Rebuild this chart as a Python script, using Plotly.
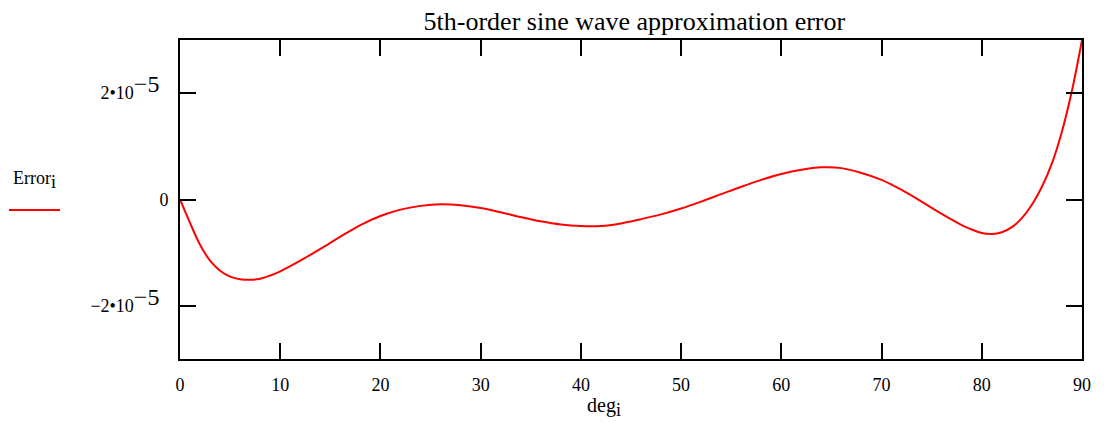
import plotly.graph_objects as go

# Values (deg, error in units of 1e-5)
deg = [0, 1, 2, 3, 4, 5, 6, 7, 8, 9, 10, 12, 14, 16, 18, 20, 22, 24, 26, 28, 30,
       32, 34, 36, 38, 40, 42, 44, 46, 48, 50, 52, 54, 56, 58, 60, 62, 64, 66, 68,
       70, 72, 74, 76, 78, 79, 80, 81, 82, 83, 84, 85, 86, 87, 88, 89, 90]
error_e5 = [0, -0.44, -0.85, -1.15, -1.34, -1.45, -1.50, -1.51, -1.49, -1.43, -1.35,
            -1.15, -0.93, -0.70, -0.48, -0.31, -0.19, -0.12, -0.09, -0.11, -0.16,
            -0.24, -0.33, -0.41, -0.47, -0.50, -0.50, -0.45, -0.37, -0.28, -0.17,
            -0.04, 0.10, 0.24, 0.37, 0.48, 0.56, 0.605, 0.59, 0.50, 0.37, 0.18, -0.04,
            -0.27, -0.48, -0.565, -0.63, -0.648, -0.615, -0.52, -0.35, -0.10, 0.24,
            0.68, 1.28, 2.05, 3.00]
error = [v * 1e-5 for v in error_e5]

x_ticks = [0, 10, 20, 30, 40, 50, 60, 70, 80, 90]
y_tickvals = [-2e-5, 0, 2e-5]
SUP = "<sup><span style='font-size:24px'>\u22125</span></sup>"
y_ticktext = ["\u22122\u202210" + SUP + "\u00a0\u00a0", "0",
              "2\u202210" + SUP + "\u00a0\u00a0"]

FONT = "Liberation Serif, Times New Roman, serif"

fig = go.Figure()
fig.add_trace(go.Scatter(
    x=deg, y=error, mode="lines",
    line=dict(color="#ff0000", width=2, shape="spline", smoothing=1.0),
    showlegend=False,
))

axis_common = dict(
    showline=True, linecolor="black", linewidth=2, mirror="ticks",
    ticks="inside", ticklen=16, tickwidth=2, tickcolor="black",
    showgrid=False, zeroline=False,
    tickfont=dict(family=FONT, size=18, color="black"),
)

fig.update_layout(
    width=1096, height=415,
    margin=dict(l=172, r=22, t=32, b=64),
    paper_bgcolor="white", plot_bgcolor="white",
    font=dict(family=FONT, size=18, color="black"),
    title=dict(text="5th-order sine wave approximation error",
               x=0.5715, xanchor="center", y=0.969, yanchor="middle",
               font=dict(family=FONT, size=26, color="black")),
    xaxis=dict(range=[0, 90], tickvals=x_ticks, ticklabelstandoff=8, **axis_common),
    yaxis=dict(range=[-3e-5, 3e-5], tickvals=y_tickvals, ticktext=y_ticktext,
               ticklabelstandoff=6, **axis_common),
    annotations=[
        dict(text="deg<sub><span style='font-size:18px'>i</span></sub>",
             xref="paper", yref="paper", x=0.47, y=-0.15,
             xanchor="center", yanchor="middle", showarrow=False,
             font=dict(family=FONT, size=20, color="black")),
        dict(text="Error<sub><span style='font-size:18px'>i</span></sub>",
             xref="paper", yref="paper", x=-0.161, y=0.56,
             xanchor="center", yanchor="middle", showarrow=False,
             font=dict(family=FONT, size=18, color="black")),
    ],
    shapes=[
        dict(type="line", xref="paper", yref="paper", x0=-0.1896, x1=-0.133,
             y0=0.467, y1=0.467, line=dict(color="#ff0000", width=2)),
    ],
)

fig.write_html("out.html")
